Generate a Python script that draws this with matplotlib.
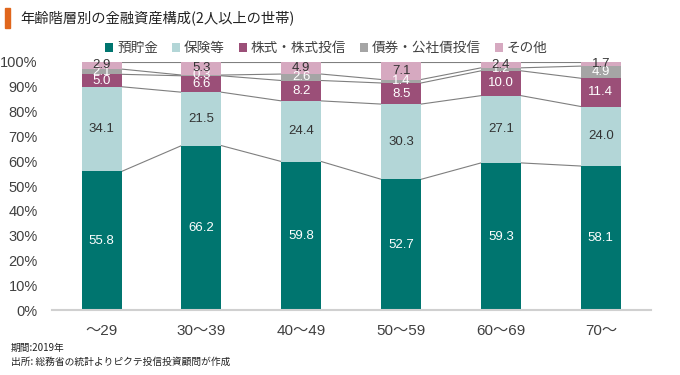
import matplotlib
matplotlib.use('Agg')
import matplotlib.pyplot as plt
from matplotlib.patches import Rectangle
import numpy as np

plt.rcParams['font.family'] = ['Noto Sans CJK JP', 'DejaVu Sans']

ages = ['～29', '30～39', '40～49', '50～59', '60～69', '70～']
series = ['預貯金', '保険等', '株式・株式投信', '債券・公社債投信', 'その他']
deposits = [55.8, 66.2, 59.8, 52.7, 59.3, 58.1]
insurance = [34.1, 21.5, 24.4, 30.3, 27.1, 24.0]
stocks = [5.0, 6.6, 8.2, 8.5, 10.0, 11.4]
bonds = [2.1, 0.3, 2.6, 1.4, 1.2, 4.9]
others = [2.9, 5.3, 4.9, 7.1, 2.4, 1.7]

colors = ['#00756F', '#B3D6D7', '#9B4F78', '#A5A5A5', '#D6A9C0']
text_colors = ['white', '#333333', 'white', 'white', '#333333']
num_font = ['Liberation Sans', 'Noto Sans CJK JP']


def main():
    fig = plt.figure(figsize=(6.8, 3.75), dpi=100)
    ax = fig.add_axes([0.076, 0.173, 0.881, 0.662])

    data = np.array([deposits, insurance, stocks, bonds, others])
    totals = data.sum(axis=0)
    shares = data / totals
    x = np.arange(len(ages))
    w = 0.4

    bottom = np.zeros(len(ages))
    for i, name in enumerate(series):
        ax.bar(x, shares[i], w, bottom=bottom, color=colors[i], label=name, zorder=2)
        for j in range(len(ages)):
            ax.text(x[j], bottom[j] + shares[i][j] / 2, f'{data[i][j]:.1f}',
                    ha='center', va='center', fontsize=9.5, color=text_colors[i],
                    family=num_font, zorder=4)
        top = bottom + shares[i]
        # series lines
        for j in range(len(ages) - 1):
            ax.plot([x[j] + w / 2, x[j + 1] - w / 2], [top[j], top[j + 1]],
                    color='#7F7F7F', lw=0.8, zorder=1)
        bottom = top

    ax.set_xlim(-0.5, 5.5)
    ax.set_ylim(0, 1.0)
    ax.set_yticks(np.arange(0, 1.01, 0.1))
    ax.set_yticklabels([f'{v}%' for v in range(0, 101, 10)], fontsize=10.5,
                       color='#404040', family=num_font)
    ax.set_xticks(x)
    ax.set_xticklabels(ages, fontsize=11, color='#404040', family=num_font)
    ax.tick_params(length=0, pad=10)
    ax.tick_params(axis='x', pad=10)
    for s in ['top', 'right', 'left']:
        ax.spines[s].set_visible(False)
    ax.spines['bottom'].set_color('#D0D0D0')
    ax.spines['bottom'].set_linewidth(1.5)

    fig.legend(loc='center', bbox_to_anchor=(0.48, 0.872), ncol=5, frameon=False,
               fontsize=9.8, handlelength=0.6, handleheight=0.6, handletextpad=0.3,
               columnspacing=1.0, labelcolor='#404040')

    fig.patches.append(Rectangle((0.007, 0.925), 0.007, 0.053, transform=fig.transFigure,
                                 color='#E0661C'))
    fig.text(0.03, 0.953, '年齢階層別の金融資産構成(2人以上の世帯)', fontsize=10.3,
             va='center', color='#222222')
    fig.text(0.016, 0.072, '期間:2019年', fontsize=7, color='#222222', va='center')
    fig.text(0.016, 0.035, '出所: 総務省の統計よりピクテ投信投資顧問が作成', fontsize=7,
             color='#222222', va='center')

    fig.savefig('out.png', dpi=100)


if __name__ == '__main__':
    main()
